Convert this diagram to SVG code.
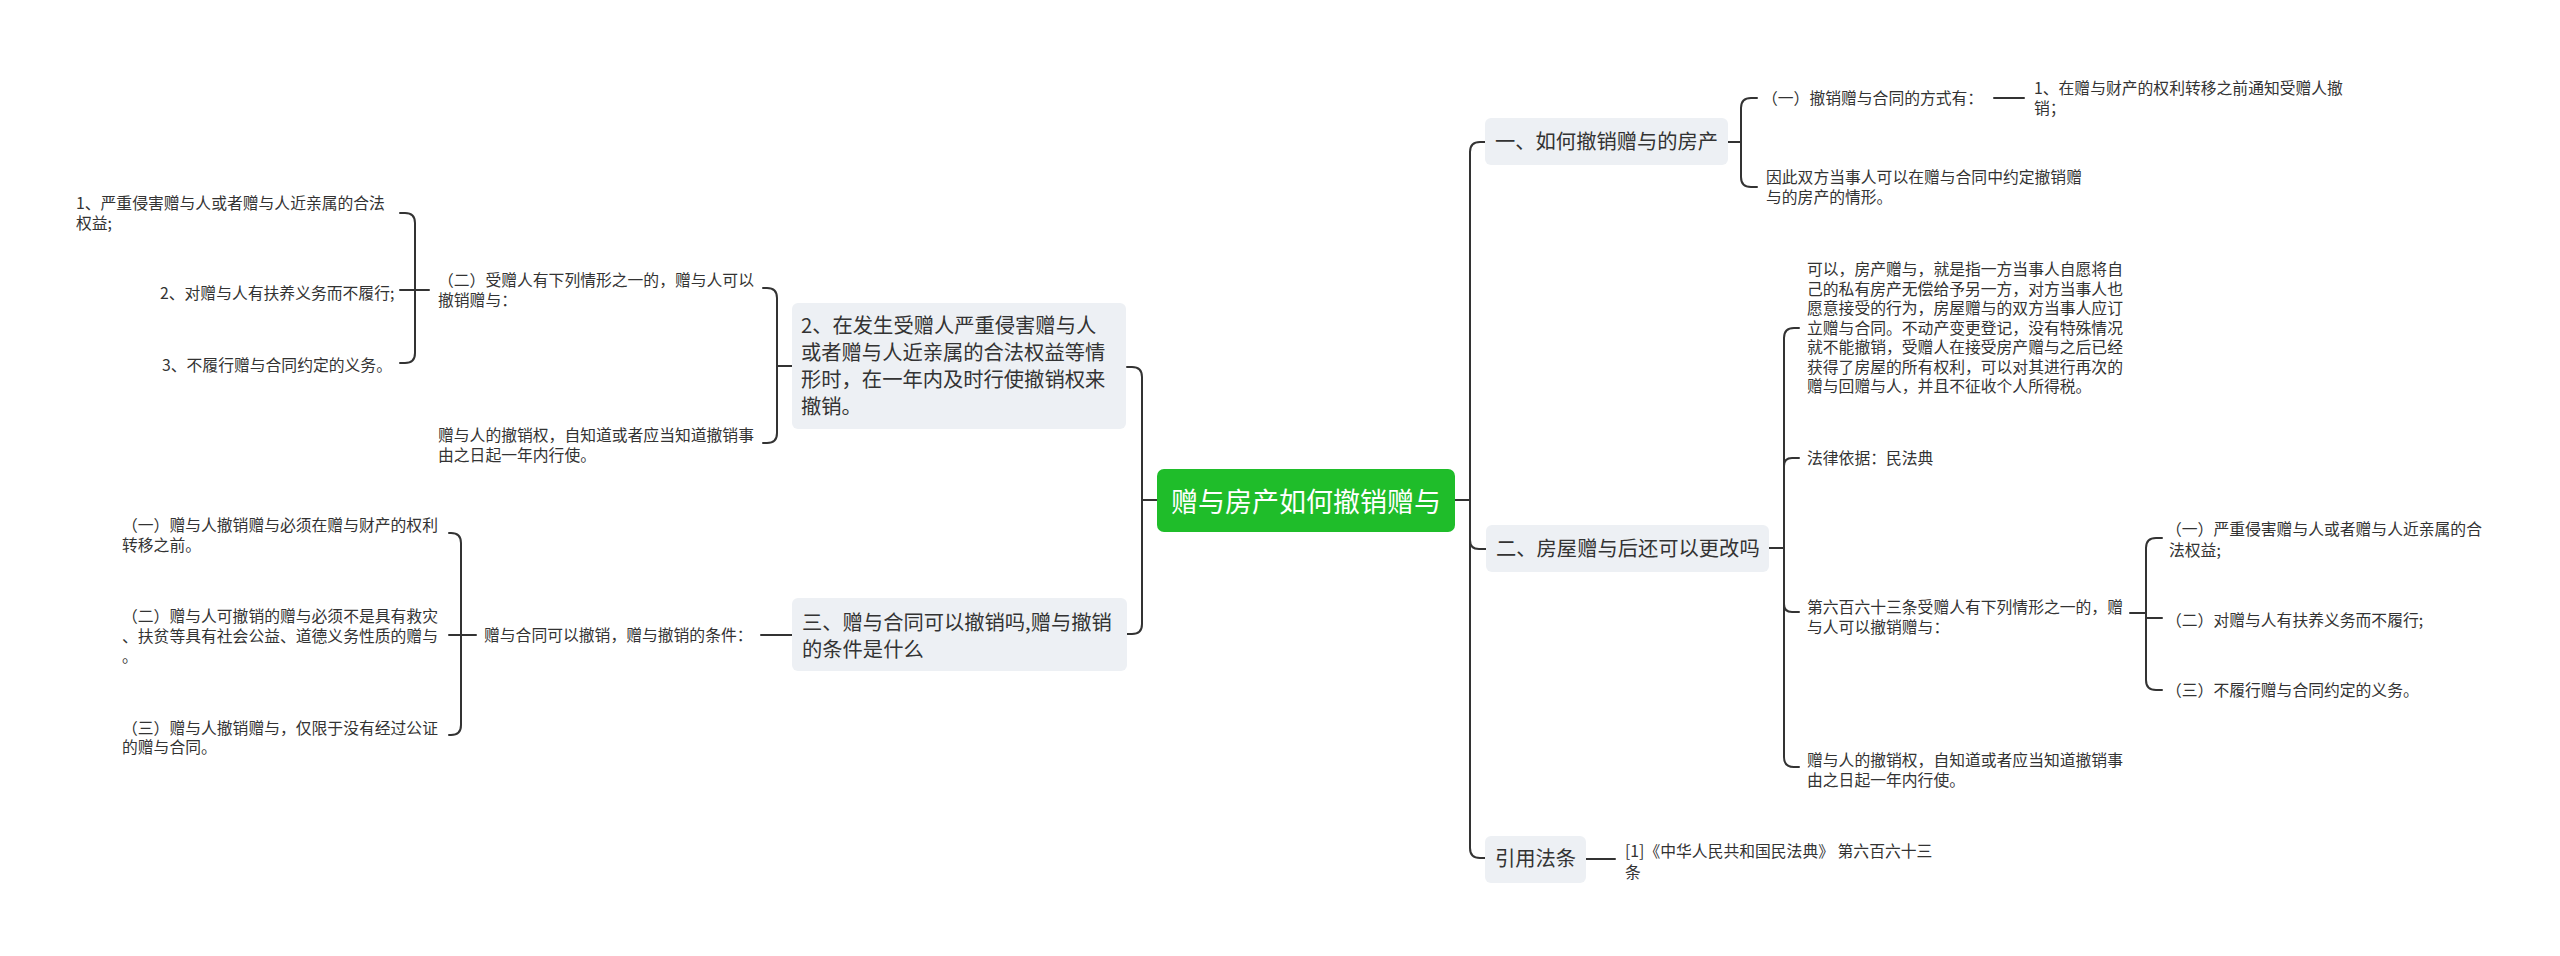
<svg xmlns="http://www.w3.org/2000/svg" width="2560" height="956" viewBox="0 0 2560 956">
<style>
.c{fill:none;stroke:#333;stroke-width:2;stroke-linecap:round;stroke-linejoin:round}
text{font-family:"Noto Sans CJK SC","Noto Sans",sans-serif;fill:#333}
.leaf{font-size:15.8px}
.n1{font-size:20.3px}
.box{fill:#edf0f4}
</style>
<rect width="2560" height="956" fill="#fff"/>
<g id="connectors">
<path class="c" d="M1157,500 H1142"/>
<path class="c" d="M1127,367 H1132 Q1142,367 1142,377 V624 Q1142,634 1132,634 H1127"/>
<path class="c" d="M792,366 H777"/>
<path class="c" d="M763,288 H767 Q777,288 777,298 V433 Q777,443 767,443 H763"/>
<path class="c" d="M400,290 H429"/>
<path class="c" d="M400,213 H405 Q415,213 415,223 V353 Q415,363 405,363 H400"/>
<path class="c" d="M792,635 H761"/>
<path class="c" d="M476,635 H449"/>
<path class="c" d="M449,533 H451 Q461,533 461,543 V725 Q461,735 451,735 H449"/>
<path class="c" d="M1455,500 H1470"/>
<path class="c" d="M1485,142 H1480 Q1470,142 1470,152 V848 Q1470,858 1480,858 H1485"/>
<path class="c" d="M1470,540 Q1470,549 1479,549 H1486"/>
<path class="c" d="M1728,142 H1741"/>
<path class="c" d="M1757,98 H1751 Q1741,98 1741,108 V177 Q1741,187 1751,187 H1757"/>
<path class="c" d="M1994,98 H2024"/>
<path class="c" d="M1769,548 H1784"/>
<path class="c" d="M1799,328 H1794 Q1784,328 1784,338 V757 Q1784,767 1794,767 H1799"/>
<path class="c" d="M1784,466 Q1784,458 1792,458 H1799"/>
<path class="c" d="M1784,604 Q1784,612 1792,612 H1799"/>
<path class="c" d="M2130,613 H2146"/>
<path class="c" d="M2162,538 H2156 Q2146,538 2146,548 V680 Q2146,690 2156,690 H2162"/>
<path class="c" d="M2146,618 H2162"/>
<path class="c" d="M1586,859 H1615"/>
</g>
<g id="central">
<rect x="1157" y="469" width="298" height="63" rx="7" fill="#1fbd2a"/>
<text x="1306" y="511.5" font-size="27" text-anchor="middle" style="fill:#fff">赠与房产如何撤销赠与</text>
</g>
<g id="n2">
<rect class="box" x="792" y="303" width="334" height="126" rx="6"/>
<text class="n1" x="801"><tspan x="801" y="332.5">2、在发生受赠人严重侵害赠与人</tspan><tspan x="801" y="359.5">或者赠与人近亲属的合法权益等情</tspan><tspan x="801" y="386.5">形时，在一年内及时行使撤销权来</tspan><tspan x="801" y="413.5">撤销。</tspan></text>
</g>
<g id="n2a"><text class="leaf"><tspan x="438" y="285.5">（二）受赠人有下列情形之一的，赠与人可以</tspan><tspan x="438" y="305.5">撤销赠与：</tspan></text></g>
<g id="n2a1"><text class="leaf"><tspan x="76" y="208.5">1、严重侵害赠与人或者赠与人近亲属的合法</tspan><tspan x="76" y="228.5">权益;</tspan></text></g>
<g id="n2a2"><text class="leaf" x="160" y="298.5">2、对赠与人有扶养义务而不履行;</text></g>
<g id="n2a3"><text class="leaf" x="162" y="370.5">3、不履行赠与合同约定的义务。</text></g>
<g id="n2b"><text class="leaf"><tspan x="438" y="440.5">赠与人的撤销权，自知道或者应当知道撤销事</tspan><tspan x="438" y="460.5">由之日起一年内行使。</tspan></text></g>
<g id="n3">
<rect class="box" x="792" y="598" width="335" height="73" rx="6"/>
<text class="n1"><tspan x="802" y="630">三、赠与合同可以撤销吗,赠与撤销</tspan><tspan x="802" y="657">的条件是什么</tspan></text>
</g>
<g id="n3a"><text class="leaf" x="484" y="640.5">赠与合同可以撤销，赠与撤销的条件：</text></g>
<g id="n3a1"><text class="leaf"><tspan x="122" y="530.5">（一）赠与人撤销赠与必须在赠与财产的权利</tspan><tspan x="122" y="551">转移之前。</tspan></text></g>
<g id="n3a2"><text class="leaf"><tspan x="122" y="621.5">（二）赠与人可撤销的赠与必须不是具有救灾</tspan><tspan x="122" y="641.5">、扶贫等具有社会公益、道德义务性质的赠与</tspan><tspan x="122" y="661.5">。</tspan></text></g>
<g id="n3a3"><text class="leaf"><tspan x="122" y="733.5">（三）赠与人撤销赠与，仅限于没有经过公证</tspan><tspan x="122" y="753">的赠与合同。</tspan></text></g>
<g id="r1">
<rect class="box" x="1485" y="118" width="243" height="47" rx="6"/>
<text class="n1" x="1495" y="149">一、如何撤销赠与的房产</text>
</g>
<g id="r1a"><text class="leaf" x="1762" y="103.5">（一）撤销赠与合同的方式有：</text></g>
<g id="r1a1"><text class="leaf"><tspan x="2034" y="93.5">1、在赠与财产的权利转移之前通知受赠人撤</tspan><tspan x="2034" y="113.5">销；</tspan></text></g>
<g id="r1b"><text class="leaf"><tspan x="1766" y="182.5">因此双方当事人可以在赠与合同中约定撤销赠</tspan><tspan x="1766" y="202.5">与的房产的情形。</tspan></text></g>
<g id="r2">
<rect class="box" x="1486" y="525" width="283" height="47" rx="6"/>
<text class="n1" x="1496" y="555.5">二、房屋赠与后还可以更改吗</text>
</g>
<g id="r2a"><text class="leaf"><tspan x="1807" y="275">可以，房产赠与，就是指一方当事人自愿将自</tspan><tspan x="1807" y="294.5">己的私有房产无偿给予另一方，对方当事人也</tspan><tspan x="1807" y="314">愿意接受的行为，房屋赠与的双方当事人应订</tspan><tspan x="1807" y="333.5">立赠与合同。不动产变更登记，没有特殊情况</tspan><tspan x="1807" y="353">就不能撤销，受赠人在接受房产赠与之后已经</tspan><tspan x="1807" y="372.5">获得了房屋的所有权利，可以对其进行再次的</tspan><tspan x="1807" y="392">赠与回赠与人，并且不征收个人所得税。</tspan></text></g>
<g id="r2b"><text class="leaf" x="1807" y="463.5">法律依据：民法典</text></g>
<g id="r2c"><text class="leaf"><tspan x="1807" y="612.5">第六百六十三条受赠人有下列情形之一的，赠</tspan><tspan x="1807" y="632.5">与人可以撤销赠与：</tspan></text></g>
<g id="r2c1"><text class="leaf"><tspan x="2166" y="534.5">（一）严重侵害赠与人或者赠与人近亲属的合</tspan><tspan x="2169" y="555.5">法权益;</tspan></text></g>
<g id="r2c2"><text class="leaf" x="2166" y="625.5">（二）对赠与人有扶养义务而不履行;</text></g>
<g id="r2c3"><text class="leaf" x="2166" y="695.5">（三）不履行赠与合同约定的义务。</text></g>
<g id="r2d"><text class="leaf"><tspan x="1807" y="765.5">赠与人的撤销权，自知道或者应当知道撤销事</tspan><tspan x="1807" y="785.5">由之日起一年内行使。</tspan></text></g>
<g id="r3">
<rect class="box" x="1485" y="836" width="101" height="47" rx="6"/>
<text class="n1" x="1495" y="866">引用法条</text>
</g>
<g id="r3a"><text x="1625" font-size="15.8"><tspan x="1625" y="857">[1]《中华人民共和国民法典》 第六百六十三</tspan><tspan x="1625" y="878">条</tspan></text></g>
</svg>
